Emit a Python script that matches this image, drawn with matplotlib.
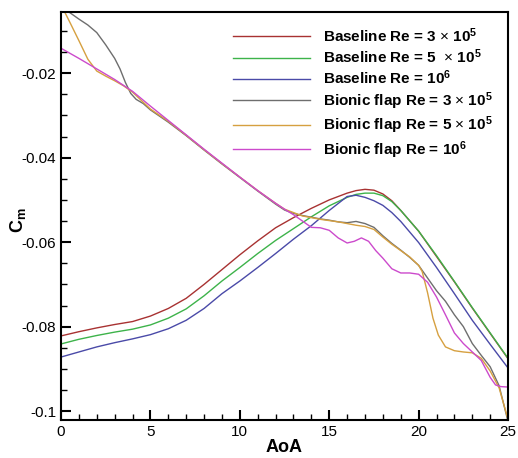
"""
Pitching moment coefficient vs angle of attack, baseline vs bionic flap
"""
import matplotlib
matplotlib.use('Agg')
import matplotlib.pyplot as plt
from matplotlib.ticker import MultipleLocator, FuncFormatter

plt.rcParams['font.family'] = 'Liberation Sans'
plt.rcParams['mathtext.fontset'] = 'custom'
plt.rcParams['mathtext.rm'] = 'Liberation Sans'
plt.rcParams['mathtext.bf'] = 'Liberation Sans:bold'

# Baseline curves (shared AoA grid)
aoa_base = [0, 1, 2, 3, 4, 5, 6, 7, 8, 9, 10, 11, 12, 13, 14, 15, 16, 16.5, 17,
            17.5, 18, 18.5, 19, 20, 21, 22, 23, 24, 25]
base_re3e5 = [-0.0822, -0.0812, -0.0803, -0.0795, -0.0788, -0.0775, -0.0757, -0.0733,
              -0.0700, -0.0665, -0.0630, -0.0597, -0.0566, -0.0542, -0.0520, -0.0500,
              -0.0484, -0.0478, -0.0475, -0.0477, -0.0486, -0.0502, -0.0525, -0.0574,
              -0.0634, -0.0694, -0.0756, -0.0816, -0.0876]
base_re5e5 = [-0.0841, -0.0830, -0.0821, -0.0813, -0.0806, -0.0796, -0.0780, -0.0758,
              -0.0727, -0.0692, -0.0660, -0.0627, -0.0596, -0.0568, -0.0540, -0.0514,
              -0.0494, -0.0487, -0.0484, -0.0484, -0.0490, -0.0504, -0.0525, -0.0574,
              -0.0632, -0.0693, -0.0755, -0.0815, -0.0875]
base_re1e6 = [-0.0872, -0.0860, -0.0848, -0.0838, -0.0829, -0.0819, -0.0805, -0.0785,
              -0.0757, -0.0722, -0.0692, -0.0660, -0.0627, -0.0593, -0.0561, -0.0525,
              -0.0492, -0.0489, -0.0494, -0.0502, -0.0513, -0.0530, -0.0551, -0.0601,
              -0.0660, -0.0722, -0.0785, -0.0842, -0.0898]

# Bionic flap curves
aoa_flap3 = [0, 0.5, 1, 1.5, 2, 2.5, 3, 3.3, 3.6, 3.9, 4.2, 4.6, 5, 6, 7, 8, 9, 10,
             11, 12, 12.5, 13, 13.5, 14, 14.5, 15, 15.5, 16, 16.5, 17, 17.5, 18, 18.5,
             19, 19.5, 20, 20.5, 21, 21.5, 22, 22.5, 23, 23.5, 24, 24.5, 25]
flap_re3e5 = [-0.0042, -0.0057, -0.0072, -0.0086, -0.0104, -0.0133, -0.0165, -0.0190,
              -0.0222, -0.0248, -0.0262, -0.0272, -0.0287, -0.0316, -0.0348, -0.0382,
              -0.0415, -0.0447, -0.0479, -0.0510, -0.0524, -0.0532, -0.0537, -0.0541,
              -0.0545, -0.0548, -0.0552, -0.0554, -0.0551, -0.0556, -0.0565, -0.0585,
              -0.0603, -0.0619, -0.0636, -0.0655, -0.0685, -0.0715, -0.0740, -0.0772,
              -0.0800, -0.0840, -0.0868, -0.0895, -0.0940, -0.1025]

aoa_flap5 = [0, 0.5, 1, 1.5, 2, 2.5, 3, 3.5, 4, 5, 6, 7, 8, 9, 10, 11, 12, 12.5, 13,
             13.5, 14, 14.5, 15, 15.5, 16, 16.5, 17, 17.5, 18, 18.5, 19, 19.5, 20,
             20.2, 20.5, 20.8, 21.1, 21.5, 22, 22.5, 23, 23.5, 24, 24.5, 25]
flap_re5e5 = [-0.0038, -0.0080, -0.0123, -0.0167, -0.0195, -0.0207, -0.0218, -0.0230,
              -0.0245, -0.0285, -0.0314, -0.0347, -0.0381, -0.0414, -0.0446, -0.0478,
              -0.0508, -0.0522, -0.0530, -0.0538, -0.0542, -0.0546, -0.0549, -0.0552,
              -0.0556, -0.0560, -0.0563, -0.0570, -0.0588, -0.0605, -0.0620, -0.0635,
              -0.0655, -0.0670, -0.0720, -0.0780, -0.0820, -0.0848, -0.0857, -0.0860,
              -0.0862, -0.0875, -0.0905, -0.0945, -0.1020]

aoa_flap1e6 = [0, 1, 2, 3, 4, 5, 6, 7, 8, 9, 10, 11, 12, 12.5, 13, 13.5, 14, 14.5, 15,
               15.5, 16, 16.4, 16.8, 17.2, 17.6, 18, 18.5, 19, 19.5, 20, 20.5, 21,
               21.5, 22, 22.5, 23, 23.5, 24, 24.3, 24.6, 25]
flap_re1e6 = [-0.0141, -0.0165, -0.0190, -0.0215, -0.0243, -0.0278, -0.0312, -0.0346,
              -0.0380, -0.0413, -0.0446, -0.0478, -0.0508, -0.0522, -0.0535, -0.0550,
              -0.0565, -0.0566, -0.0572, -0.0590, -0.0602, -0.0598, -0.0590, -0.0598,
              -0.0620, -0.0638, -0.0663, -0.0673, -0.0673, -0.0676, -0.0695, -0.0730,
              -0.0772, -0.0815, -0.0840, -0.0860, -0.0880, -0.0920, -0.0938, -0.0942,
              -0.0943]

labels = [r'Baseline Re = 3 $\times$ $\mathbf{10^{5}}$',
          r'Baseline Re = 5  $\times$ $\mathbf{10^{5}}$',
          r'Baseline Re = $\mathbf{10^{6}}$',
          r'Bionic flap Re = 3 $\times$ $\mathbf{10^{5}}$',
          r'Bionic flap Re = 5 $\times$ $\mathbf{10^{5}}$',
          r'Bionic flap Re = $\mathbf{10^{6}}$']
colors = ['#A83232', '#3DB34A', '#4A4AA8', '#6E6E6E', '#D6A040', '#CC4ACC']


def create_cm_chart():
    fig = plt.figure(figsize=(5.18, 4.58), dpi=100)
    ax = fig.add_axes([0.1178, 0.083, 0.863, 0.891])

    series = [(aoa_base, base_re3e5), (aoa_base, base_re5e5), (aoa_base, base_re1e6),
              (aoa_flap3, flap_re3e5), (aoa_flap5, flap_re5e5), (aoa_flap1e6, flap_re1e6)]
    for (x, y), lab, col in zip(series, labels, colors):
        ax.plot(x, y, color=col, linewidth=1.0, label=lab)

    ax.set_xlim(0, 25)
    ax.set_ylim(-0.1021, -0.0055)
    ax.xaxis.set_major_locator(MultipleLocator(5))
    ax.xaxis.set_minor_locator(MultipleLocator(1))
    ax.yaxis.set_major_locator(MultipleLocator(0.02))
    ax.yaxis.set_minor_locator(MultipleLocator(0.005))
    ax.yaxis.set_major_formatter(FuncFormatter(lambda v, p: f'{v:g}'))
    ax.xaxis.set_major_formatter(FuncFormatter(lambda v, p: f'{v:g}'))
    ax.tick_params(which='major', direction='in', length=7, width=1.5, labelsize=11,
                   top=False, right=False)
    ax.tick_params(which='minor', direction='in', length=4, width=1.0,
                   top=False, right=False)
    for sp in ax.spines.values():
        sp.set_linewidth(1.5)

    ax.set_xlabel('AoA', fontsize=13, fontweight='bold', labelpad=0)
    ax.set_ylabel(r'$\mathbf{C_m}$', fontsize=13)
    ax.yaxis.set_label_coords(-0.074, 0.49)

    ax.legend(loc='upper left', bbox_to_anchor=(0.385, 0.965), frameon=False,
              prop={'weight': 'bold', 'size': 11}, handlelength=5.0,
              handletextpad=0.9, labelspacing=0.18, borderpad=0,
              borderaxespad=0)

    fig.savefig('out.png', dpi=100)
    plt.close(fig)


if __name__ == '__main__':
    create_cm_chart()
